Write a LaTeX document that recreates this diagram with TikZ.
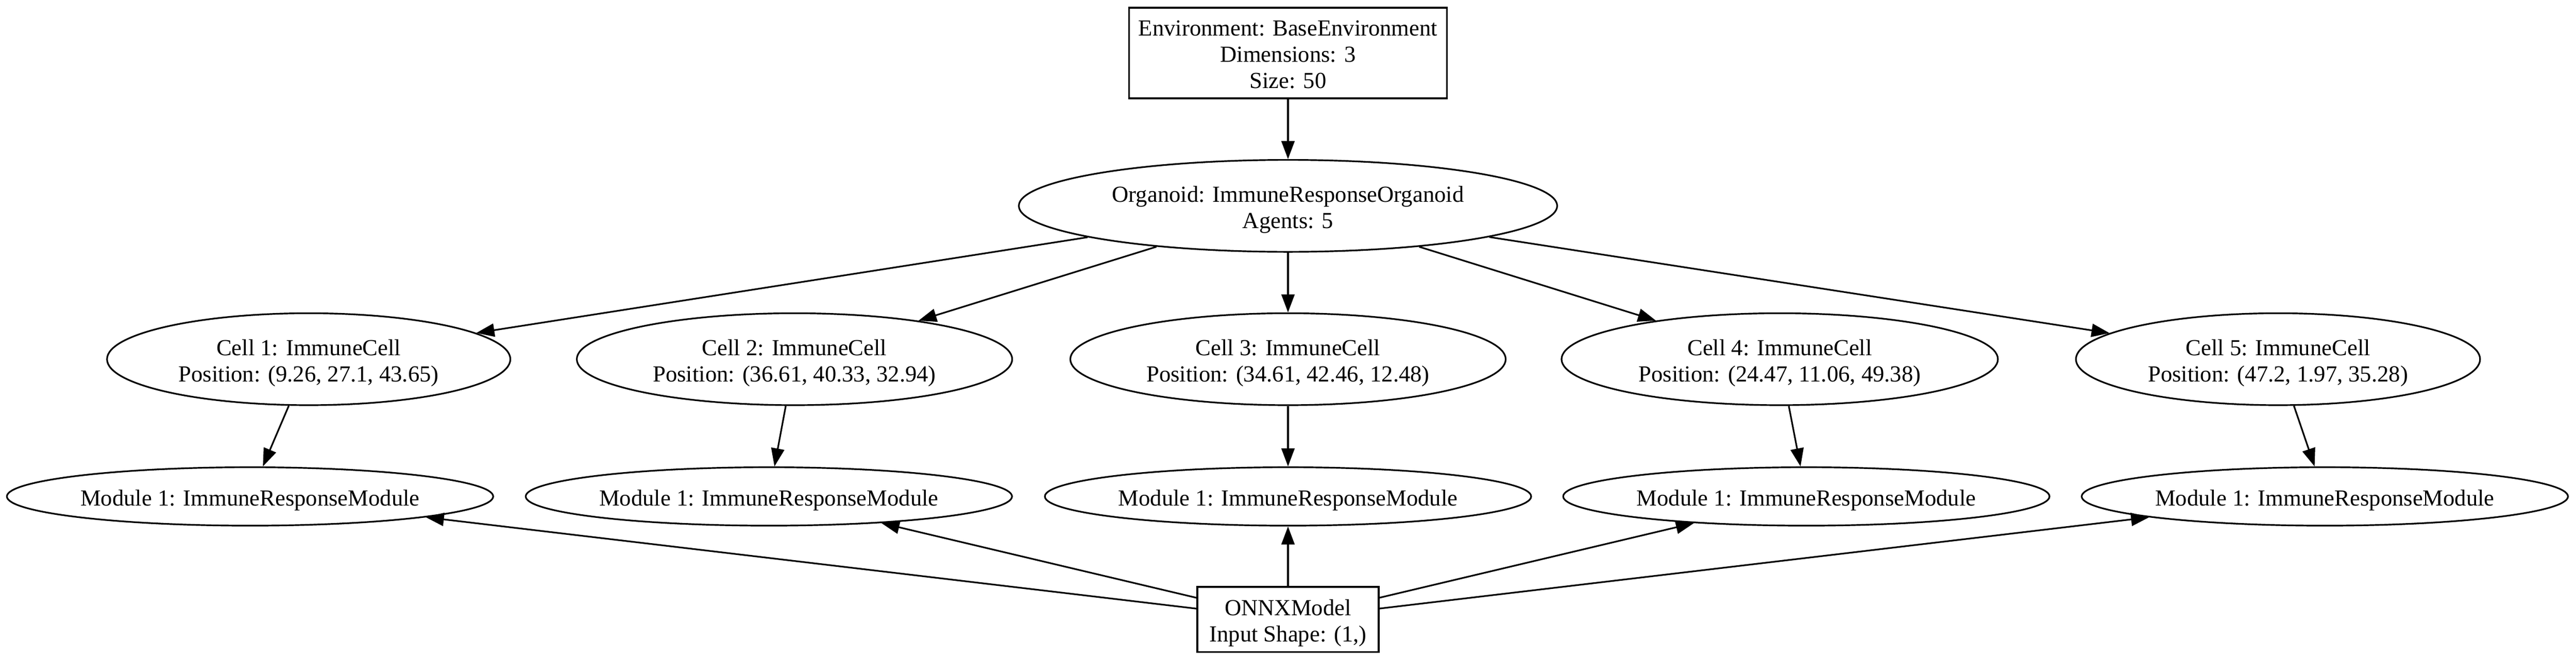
\documentclass[tikz,border=0pt]{standalone}
\usepackage{fontspec}
\setmainfont{Liberation Serif}
\usetikzlibrary{shapes.geometric,arrows.meta}
\newcommand\glbl[2]{\makebox[0pt]{\raisebox{\dimexpr 8pt*#1-13.6pt\relax}[0pt][0pt]{\begin{tabular}[t]{@{}c@{}}#2\end{tabular}}}}
\begin{document}
\begin{tikzpicture}[x=1pt,y=1pt,
  every node/.style={font={\fontsize{14}{16}\selectfont}, line width=1pt, inner sep=0pt},
  gbox/.style={draw, rectangle},
  gell/.style={draw, ellipse},
  cellnode/.style={gell, minimum height=56pt},
  modnode/.style={gell, minimum width=296pt, minimum height=35.6pt},
  garr/.style={-{Triangle[length=11pt,width=8pt]}, line width=1pt}]
\fill[white] (0,0) rectangle (1568,-401.77);
\useasboundingbox (0,0) rectangle (1568,-401.77);

\node[gbox, minimum width=193.5pt, minimum height=55.2pt] (env) at (784,-32.3)
  {\glbl{3}{Environment: BaseEnvironment\\Dimensions: 3\\Size: 50}};
\node[gell, minimum width=327.7pt, minimum height=56pt] (org) at (784,-125.4)
  {\glbl{2}{Organoid: ImmuneResponseOrganoid\\Agents: 5}};

\node[cellnode, minimum width=245.5pt] (c1) at (187.9,-218.8)
  {\glbl{2}{Cell 1: ImmuneCell\\Position: (9.26, 27.1, 43.65)}};
\node[cellnode, minimum width=265pt] (c2) at (483.6,-218.8)
  {\glbl{2}{Cell 2: ImmuneCell\\Position: (36.61, 40.33, 32.94)}};
\node[cellnode, minimum width=265pt] (c3) at (784,-218.8)
  {\glbl{2}{Cell 3: ImmuneCell\\Position: (34.61, 42.46, 12.48)}};
\node[cellnode, minimum width=265.6pt] (c4) at (1083.3,-218.8)
  {\glbl{2}{Cell 4: ImmuneCell\\Position: (24.47, 11.06, 49.38)}};
\node[cellnode, minimum width=246pt] (c5) at (1386.6,-218.8)
  {\glbl{2}{Cell 5: ImmuneCell\\Position: (47.2, 1.97, 35.28)}};

\node[modnode] (m1) at (152.2,-302.4) {\glbl{1}{Module 1: ImmuneResponseModule}};
\node[modnode] (m2) at (468,-302.4) {\glbl{1}{Module 1: ImmuneResponseModule}};
\node[modnode] (m3) at (784,-302.4) {\glbl{1}{Module 1: ImmuneResponseModule}};
\node[modnode] (m4) at (1099.5,-302.4) {\glbl{1}{Module 1: ImmuneResponseModule}};
\node[modnode] (m5) at (1415.1,-302.4) {\glbl{1}{Module 1: ImmuneResponseModule}};

\node[gbox, minimum width=110.4pt, minimum height=39.6pt] (onnx) at (784,-377.3)
  {\glbl{2}{ONNXModel\\Input Shape: (1,)}};

\draw[garr] (env) -- (org);
\foreach \c in {c1,c2,c3,c4,c5} \draw[garr] (org) -- (\c);
\draw[garr] (c1) -- (m1);
\draw[garr] (c2) -- (m2);
\draw[garr] (c3) -- (m3);
\draw[garr] (c4) -- (m4);
\draw[garr] (c5) -- (m5);
\foreach \m in {m1,m2,m3,m4,m5} \draw[garr] (onnx) -- (\m);
\end{tikzpicture}
\end{document}
